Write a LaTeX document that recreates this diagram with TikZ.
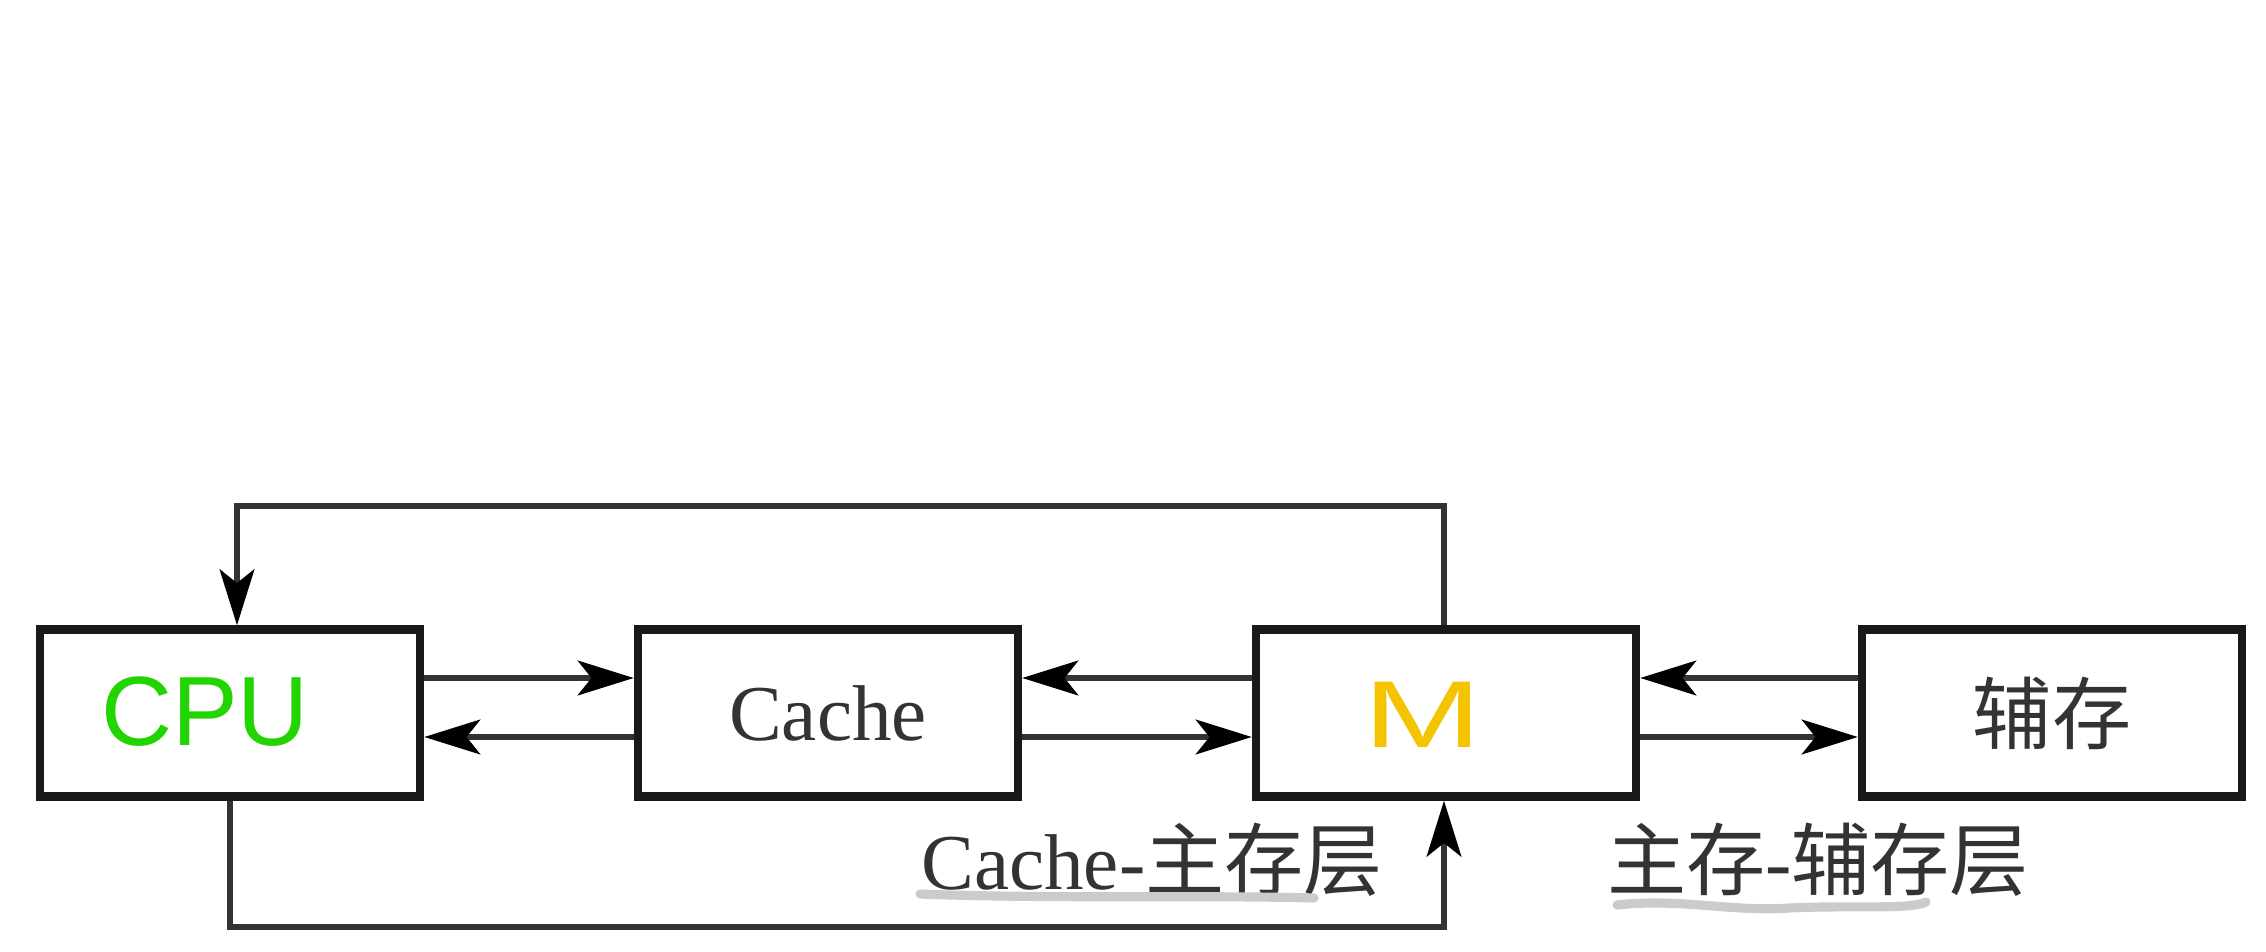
\documentclass[tikz,border=0pt]{standalone}
\usepackage{fontspec}
\setmainfont{Liberation Serif}
\newfontfamily\cjk{Noto Sans CJK SC}
\newfontfamily\hand{Liberation Sans}
\usetikzlibrary{arrows.meta}
\definecolor{handgreen}{HTML}{22D400}
\definecolor{handyellow}{HTML}{F5C400}
\definecolor{ulgray}{HTML}{C9CBCC}
\tikzset{
  unitbox/.style={draw=black!90, line width=2.4pt, minimum width=3.8cm, minimum height=1.67cm, inner sep=0pt, font=\fontsize{22.5}{24}\selectfont, text=black!80},
  conn/.style={draw=black!80, line width=1.6pt},
  arr/.style={conn, -{Stealth[length=16pt,width=10pt,inset=4pt,line width=0.4pt,color=black]}},
  lbl/.style={font=\fontsize{22.5}{24}\selectfont, text=black!80, inner sep=0pt},
  uline/.style={draw=ulgray, line width=2.6pt, line cap=round},
}
\begin{document}
\begin{tikzpicture}[x=0.01cm,y=-0.01cm]
\useasboundingbox (0,0) rectangle (2266,952);
% boxes
\node[unitbox] (CPU) at (230,713) {};
\node[unitbox] (Cache) at (828,713) {Cache};
\node[unitbox] (M) at (1446,713) {};
\node[unitbox] (Aux) at (2052,713) {{\cjk 辅存}};
% handwritten labels
\node[font=\hand\fontsize{28}{30}\selectfont, text=handgreen, inner sep=0pt] (cputxt) at (205,712) {CPU};
\node[font=\hand\fontsize{27}{30}\selectfont, text=handyellow, inner sep=0pt, xscale=1.5] (mtxt) at (1423,715) {M};
% horizontal arrow rows
\coordinate (ya) at (0,678);
\coordinate (yb) at (0,737);
\draw[arr] (CPU.east |- ya) -- (Cache.west |- ya);
\draw[arr] (Cache.west |- yb) -- (CPU.east |- yb);
\draw[arr] (M.west |- ya) -- (Cache.east |- ya);
\draw[arr] (Cache.east |- yb) -- (M.west |- yb);
\draw[arr] (Aux.west |- ya) -- (M.east |- ya);
\draw[arr] (M.east |- yb) -- (Aux.west |- yb);
% top loop M -> CPU
\coordinate (tl) at (237,506);
\coordinate (tr) at (1444,506);
\draw[arr] (tr |- M.north) -- (tr) -- (tl) -- (tl |- CPU.north);
% bottom loop CPU -> M
\coordinate (bl) at (230,927);
\coordinate (br) at (1444,927);
\draw[arr] (bl |- CPU.south) -- (bl) -- (br) -- (br |- M.south);
% layer labels
\node[lbl] (l1) at (1152,860) {Cache-{\cjk 主存层}};
\node[lbl] (l2) at (1818,860) {{\cjk 主存}-{\cjk 辅存层}};
% hand-drawn underlines
\draw[uline] (920,894) .. controls (1050,899) and (1200,895) .. (1314,898);
\draw[uline] (1617,905) .. controls (1680,898) and (1730,912) .. (1790,908) .. controls (1850,905) and (1910,910) .. (1926,902);
\end{tikzpicture}
\end{document}
